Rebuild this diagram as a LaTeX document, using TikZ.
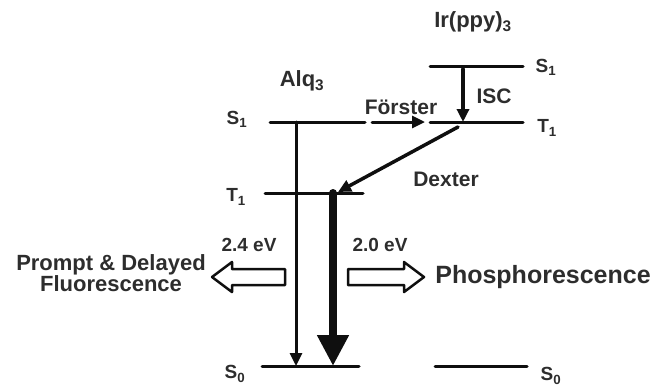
\documentclass[tikz,border=0pt]{standalone}
\usepackage{fontspec}
\setmainfont{Liberation Sans}
\usepackage{tkz-euclide}
\usetikzlibrary{arrows.meta,calc}
\definecolor{LineClr}{RGB}{15,15,15}
\definecolor{TextClr}{RGB}{45,45,45}
\tikzset{
  statelbl/.style={font=\bfseries\fontsize{19}{21}\selectfont,text=TextClr,inner sep=0pt},
  molname/.style={font=\bfseries\fontsize{22}{24}\selectfont,text=TextClr,inner sep=0pt},
  proclbl/.style={font=\bfseries\fontsize{21}{23}\selectfont,text=TextClr,inner sep=0pt},
  evlbl/.style={font=\bfseries\fontsize{19}{21}\selectfont,text=TextClr,inner sep=0pt},
  smallhead/.style={-{Triangle[length=13pt,width=12pt]}},
  bighead/.style={-{Triangle[length=31pt,width=30pt]}}
}

\begin{document}
\begin{tikzpicture}[x=1pt,y=-1pt]
\useasboundingbox (0,0) rectangle (655,386);
\tkzSetUpLine[line width=3pt,color=LineClr]

% energy levels
\tkzDefPoints{270/122/AS1,365/122/AS1e,265/193/AT1,363/193/AT1e,262/366/AS0,359/366/AS0e}
\tkzDefPoints{430/66/IS1,523/66/IS1e,430/122/IT1,523/122/IT1e,435/366/IS0,527/366/IS0e}

% transfer and decay arrows
\tkzDefPoints{372/122/F1,425/122/F2,463/69/C1,463/122/C2,458/127/D1,338/192/D2}
\tkzDefPoints{296/122/R1,296/366/R2,333/193/P1,333/366/P2}

% hollow arrows
\tkzDefPoints{212/277/La,232/262/Lb,232/269/Lc,285/269/Ld,285/285/Le,232/285/Lf,232/292/Lg}
\tkzDefPoints{424/277/Ra,404/262/Rb,404/269/Rc,348/269/Rd,348/285/Re,404/285/Rf,404/292/Rg}

\tkzDrawSegments(AS1,AS1e AT1,AT1e AS0,AS0e IS1,IS1e IT1,IT1e IS0,IS0e)

\tkzDrawSegments[line width=3pt,smallhead](F1,F2 R1,R2)
\tkzDrawSegments[line width=3.5pt,smallhead](C1,C2 D1,D2)
\tkzDrawSegments[line width=8pt,bighead](P1,P2)

\tkzDrawPolygon[line width=2.5pt,color=LineClr,fill=white](La,Lb,Lc,Ld,Le,Lf,Lg)
\tkzDrawPolygon[line width=2.5pt,color=LineClr,fill=white](Ra,Rb,Rc,Rd,Re,Rf,Rg)

\node[molname] (Ir) at (473,22) {Ir(ppy)\textsubscript{3}};
\node[molname] (Alq) at (302,81) {Alq\textsubscript{3}};
\node[proclbl] (Foe) at (401,107) {Förster};
\node[proclbl] (Isc) at (494,96) {ISC};
\node[proclbl] (Dex) at (446,179) {Dexter};

\node[statelbl] (lS1) at (237,119) {S\textsubscript{1}};
\node[statelbl] (lT1) at (236,197) {T\textsubscript{1}};
\node[statelbl] (lS0) at (235,374) {S\textsubscript{0}};
\node[statelbl] (rS1) at (546,67) {S\textsubscript{1}};
\node[statelbl] (rT1) at (547,128) {T\textsubscript{1}};
\node[statelbl] (rS0) at (551,376) {S\textsubscript{0}};

\node[evlbl] (eA) at (249,245) {2.4 eV};
\node[evlbl] (eB) at (380,245) {2.0 eV};

\node[font=\bfseries\fontsize{22}{21}\selectfont,text=TextClr,align=center,inner sep=0pt] (Fluo) at (111,273) {Prompt \& Delayed\\Fluorescence};
\node[font=\bfseries\fontsize{25}{27}\selectfont,text=TextClr,inner sep=0pt] (Phos) at (543,277) {Phosphorescence};

\end{tikzpicture}
\end{document}
